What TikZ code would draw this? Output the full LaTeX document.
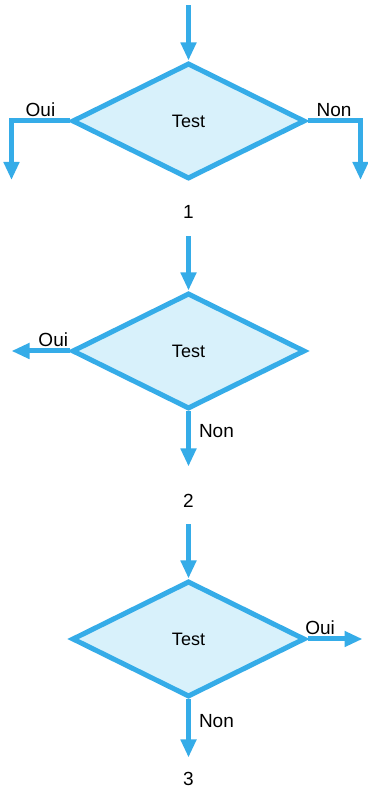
\documentclass[tikz,border=0pt]{standalone}
\usepackage{fontspec}
\setmainfont{Liberation Sans}
\usepackage{tikz}
\usetikzlibrary{arrows.meta,positioning,shapes.geometric}
\definecolor{tstblue}{HTML}{35ACE8}
\definecolor{tstcyan}{HTML}{D8F1FB}
\tikzset{
  testbox/.style={diamond,draw=tstblue,line width=5pt,fill=tstcyan,inner sep=0pt,
                  minimum width=233pt,minimum height=116pt,line join=miter,
                  font=\fontsize{18}{21}\selectfont},
  flow/.style={-{Triangle[width=15pt,length=18pt]},line width=5pt,draw=tstblue},
  branchlabel/.style={font=\fontsize{19}{22}\selectfont,inner sep=2pt},
  numlabel/.style={font=\fontsize{19}{22}\selectfont,inner sep=0pt}
}
\begin{document}
\begin{tikzpicture}[x=1pt,y=1pt]
    \useasboundingbox[fill=white] (0,0) rectangle (367,795);

    \node[testbox] (d1) at (188.5,674) {Test};
    \node[testbox,below=109pt of d1] (d2) {Test};
    \node[testbox,below=167pt of d2] (d3) {Test};

    % entrees
    \coordinate[above=55pt of d1.north] (in1);
    \coordinate[above=54pt of d2.north] (in2);
    \coordinate[above=54pt of d3.north] (in3);

    % sorties
    \coordinate[below left=59pt and 58pt of d1.west] (oui1);
    \coordinate[below right=59pt and 53pt of d1.east] (non1);
    \coordinate[left=58pt of d2.west] (oui2);
    \coordinate[below=55pt of d2.south] (non2);
    \coordinate[right=55pt of d3.east] (oui3);
    \coordinate[below=58pt of d3.south] (non3);

    \draw[flow] (in1) -- (d1.north);
    \draw[flow] (in2) -- (d2.north);
    \draw[flow] (in3) -- (d3.north);

    \draw[flow] (d1.west) -| node[branchlabel,above,pos=.25]{Oui} (oui1);
    \draw[flow] (d1.east) -| node[branchlabel,above,pos=.25]{Non} (non1);
    \draw[flow] (d2.west) -- node[branchlabel,above,pos=.28]{Oui} (oui2);
    \draw[flow] (d2.south) -- node[branchlabel,right=6pt,pos=.35]{Non} (non2);
    \draw[flow] (d3.east) -- node[branchlabel,above,pos=.23]{Oui} (oui3);
    \draw[flow] (d3.south) -- node[branchlabel,right=6pt,pos=.37]{Non} (non3);

    \node[numlabel,below=24pt of d1] (n1) {1};
    \node[numlabel,below=28pt of non2] (n2) {2};
    \node[numlabel,below=15pt of non3] (n3) {3};
  \end{tikzpicture}
\end{document}
